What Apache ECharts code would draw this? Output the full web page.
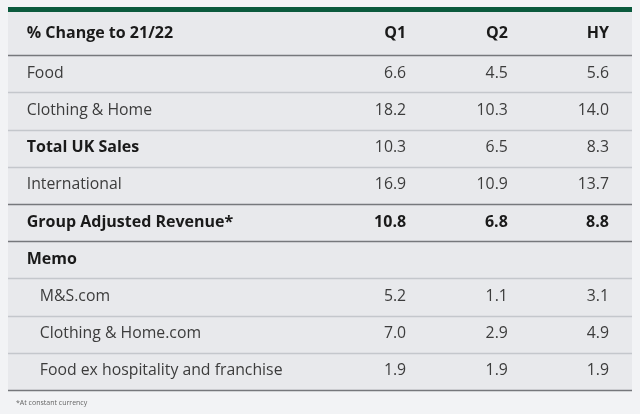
<!DOCTYPE html>
<html><head><meta charset="utf-8">
<script src="https://cdn.jsdelivr.net/npm/echarts@6/dist/echarts.min.js"></script>
<style>html,body{margin:0;padding:0;background:#f2f3f5}#c{width:640px;height:414px}</style>
</head><body><div id="c"></div>
<script>
const headerTitle = '% Change to 21/22';
const columns = ['Q1', 'Q2', 'HY'];
const rows = ['Food', 'Clothing & Home', 'Total UK Sales', 'International', 'Group Adjusted Revenue*', 'Memo', 'M&S.com', 'Clothing & Home.com', 'Food ex hospitality and franchise'];
const q1 = [6.6, 18.2, 10.3, 16.9, 10.8, null, 5.2, 7.0, 1.9];
const q2 = [4.5, 10.3, 6.5, 10.9, 6.8, null, 1.1, 2.9, 1.9];
const hy = [5.6, 14.0, 8.3, 13.7, 8.8, null, 3.1, 4.9, 1.9];
const footnote = '*At constant currency';

// presentation config
const boldLabelRows = ['Total UK Sales', 'Group Adjusted Revenue*', 'Memo'];
const boldValueRows = ['Group Adjusted Revenue*'];
const indentRows = ['M&S.com', 'Clothing & Home.com', 'Food ex hospitality and franchise'];
const darkLineAfter = [headerTitle, 'International', 'Group Adjusted Revenue*', 'Food ex hospitality and franchise'];

const allRows = [headerTitle].concat(rows);
const tableData = allRows.map((r, i) => i === 0 ? [i, ...columns] : [i, q1[i-1], q2[i-1], hy[i-1]]);

const FONT = '"Open Sans", sans-serif';
const REG = '15.8px ' + FONT;
const BOLD = 'bold 16px ' + FONT;
const colPos = [63.8, 80.1, 96.3];
const labelPos = 3.0, indentPos = 5.1;

const chart = echarts.init(document.getElementById('c'), null, {renderer: 'canvas'});
chart.setOption({
  backgroundColor: '#f2f3f5',
  animation: false,
  graphic: [
    {type: 'rect', shape: {x: 8, y: 12, width: 624, height: 378}, style: {fill: '#e8e9ec'}, z: -10},
    {type: 'rect', shape: {x: 8, y: 7, width: 624, height: 5}, style: {fill: '#0b5a3d'}, z: -10},
    {type: 'text', left: 16, top: 399, style: {text: footnote, font: '7px ' + FONT, fill: '#666'}}
  ],
  grid: {left: 8, right: 8, top: 18, bottom: 24},
  xAxis: {type: 'value', min: 0, max: 100, show: false},
  yAxis: {type: 'category', inverse: true, data: allRows, show: false},
  series: [{
    type: 'custom',
    data: tableData,
    encode: {y: 0},
    renderItem: function (params, api) {
      const i = api.value(0);
      const name = allRows[i];
      const c = api.coord([0, i]);
      const h = api.size([0, 1])[1];
      const cy = c[1] + (i === 0 ? -3.5 : -0.5);
      const left = params.coordSys.x, right = params.coordSys.x + params.coordSys.width;
      const children = [];
      const isHeader = i === 0;
      const boldLabel = isHeader || boldLabelRows.includes(name);
      const lx = api.coord([indentRows.includes(name) ? indentPos : labelPos, i])[0];
      children.push({type: 'text', style: {
        text: name, x: lx, y: cy, textAlign: 'left', textVerticalAlign: 'middle',
        font: boldLabel ? BOLD : REG, fill: boldLabel ? '#1a1a1a' : '#3c3c3c'}});
      const vals = isHeader ? columns : [q1[i-1], q2[i-1], hy[i-1]];
      const boldVal = isHeader || boldValueRows.includes(name);
      vals.forEach((v, k) => {
        if (v === null || v === undefined) return;
        const x = api.coord([colPos[k], i])[0];
        children.push({type: 'text', style: {
          text: isHeader ? v : v.toFixed(1), x: x, y: cy, textAlign: 'right', textVerticalAlign: 'middle',
          font: boldVal ? BOLD : REG, fill: boldVal ? '#1a1a1a' : '#3c3c3c'}});
      });
      const dark = darkLineAfter.includes(name);
      const ly = Math.round(c[1] + h / 2) + 0.5;
      children.push({type: 'line', shape: {x1: left, y1: ly, x2: right, y2: ly},
        style: {stroke: dark ? '#76787c' : '#c4c7cc', lineWidth: 1.5}});
      return {type: 'group', children: children};
    }
  }]
});
</script>
</body></html>
